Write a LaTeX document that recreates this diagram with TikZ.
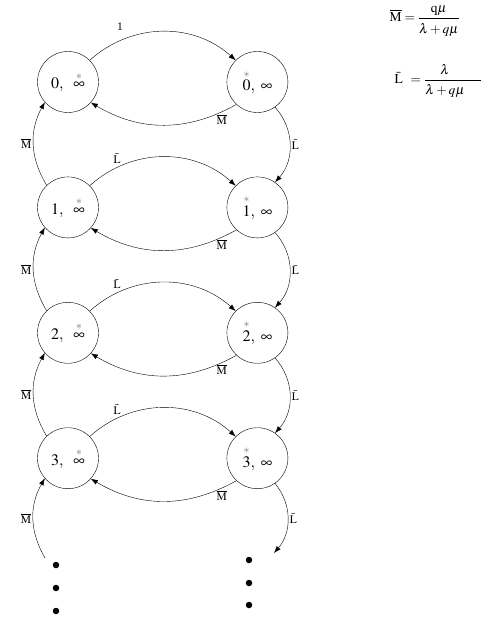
\documentclass[tikz,border=0pt]{standalone}
\usepackage{amsmath,amssymb}
\usepackage{mathptmx}
\usepackage{fontspec}
\setmainfont{Liberation Serif}
\usepackage{tikz}
\usetikzlibrary{arrows.meta,positioning}
\newcommand{\Mb}{$\overline{\mathrm{M}}$}
\newcommand{\Lb}{$\bar{\mathrm{L}}$}
\newcommand{\gstar}{\textcolor{black!55}{*}}

\begin{document}
\begin{tikzpicture}[x=1pt,y=1pt,>={Latex[length=7pt,width=5pt]},
 estado/.style={draw,circle,minimum size=61pt,inner sep=0pt,font=\fontsize{16}{18}\selectfont},
 punto/.style={circle,fill,inner sep=0pt,minimum size=6.5pt},
 lbl/.style={font=\fontsize{11.5}{13}\selectfont,inner sep=2pt},
 node distance=64pt and 128pt]
\useasboundingbox (0,0) rectangle (497,-618);
\node[estado] (l0) at (68,-82) {$0,\ \ \overset{\gstar}{\infty}$};
\node[estado,right=of l0] (r0) {$\overset{\gstar}{0},\ \infty$};
\node[estado,below=of l0] (l1) {$1,\ \ \overset{\gstar}{\infty}$};
\node[estado,right=of l1] (r1) {$\overset{\gstar}{1},\ \infty$};
\node[estado,below=of l1] (l2) {$2,\ \ \overset{\gstar}{\infty}$};
\node[estado,right=of l2] (r2) {$\overset{\gstar}{2},\ \infty$};
\node[estado,below=of l2] (l3) {$3,\ \ \overset{\gstar}{\infty}$};
\node[estado,right=of l3] (r3) {$\overset{\gstar}{3},\ \infty$};
% puntos suspensivos
\foreach \i/\y in {1/565,2/588,3/611} \node[punto] (ld\i) at (56,-\y) {};
\foreach \i/\y in {1/560,2/583,3/605} \node[punto] (rd\i) at (249,-\y) {};
\coordinate (lin) at (45,-558);
\coordinate (rout) at (274,-553);
% formulas
\node[anchor=west,font=\fontsize{13.5}{16}\selectfont] (fm) at (386,-21) {$\overline{\mathrm{M}} = \dfrac{\mathrm{q}\mu\rule[-3pt]{0pt}{0pt}}{\rule{0pt}{13pt}\lambda+q\mu}$};
\node[anchor=west,font=\fontsize{13.5}{16}\selectfont] (fl) at (391,-81) {$\bar{\mathrm{L}}\ \,= \dfrac{\lambda\rule[-3pt]{0pt}{0pt}\hspace{16pt}}{\rule{0pt}{13pt}\lambda+q\mu\hspace{16pt}}$};
% transiciones
\draw[->] (l0.45) to[bend left=42] node[lbl,pos=0.22,above=8pt]{1} (r0.135);
\foreach \a/\b in {l1/r1,l2/r2,l3/r3}
 \draw[->] (\a.45) to[bend left=42] node[lbl,pos=0.2,above=2pt]{\Lb} (\b.135);
\foreach \a/\b in {r0/l0,r1/l1,r2/l2,r3/l3}
 \draw[->] (\a.227) to[bend left=30] node[lbl,pos=0.1,below]{\Mb} (\b.318);
\foreach \a/\b in {r0/r1,r1/r2,r2/r3}
 \draw[->] (\a.305) to[bend left=42] node[lbl,right]{\Lb} (\b.55);
\foreach \a/\b in {l1/l0,l2/l1,l3/l2}
 \draw[->] (\a.134) to[bend left=30] node[lbl,left]{\Mb} (\b.221);
\draw[->] (lin) to[bend left=30] node[lbl,left]{\Mb} (l3.221);
\draw[->] (r3.305) to[bend left=40] node[lbl,right]{\Lb} (rout);
\end{tikzpicture}
\end{document}
